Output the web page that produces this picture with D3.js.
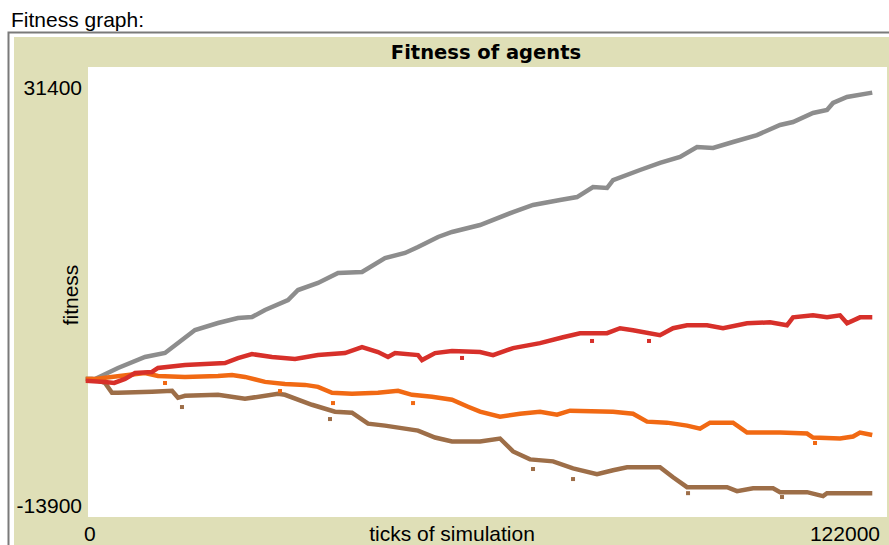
<!DOCTYPE html>
<html>
<head>
<meta charset="utf-8">
<script src="https://cdn.jsdelivr.net/npm/d3@7/dist/d3.min.js"></script>
<style>
  html, body { margin: 0; padding: 0; background: #ffffff; }
  svg { display: block; }
</style>
</head>
<body>
<div id="chart"></div>
<script>
// ---------------- DATA ----------------
const widgetLabel = "Fitness graph:";
const chartTitle = "Fitness of agents";
const xAxisTitle = "ticks of simulation";
const yAxisTitle = "fitness";
const xDomain = [0, 122000];
const yDomain = [-13900, 31400];
const xTickLabels = ["0", "122000"];
const yTickLabels = ["31400", "-13900"];

// [tick, fitness]
const graySeries = [[0,0],[1070,0],[4580,1100],[8700,2210],[11760,2610],[16340,4920],[19850,5630],[22900,6130],[25040,6230],[27030,6940],[30540,7940],[32070,8950],[35120,9660],[38180,10660],[41840,10760],[45350,12170],[48410,12680],[50390,13280],[53450,14290],[55580,14790],[59860,15490],[64900,16800],[67950,17510],[72070,18010],[74670,18310],[77110,19320],[79250,19220],[80170,20020],[84290,21030],[87340,21740],[90400,22340],[92990,23350],[95440,23250],[98490,23850],[102150,24550],[105670,25560],[107650,25860],[110700,26770],[112840,27070],[113760,27780],[115890,28380],[119410,28780]];

const redSeries = [[0,-200],[2600,-300],[4000,-400],[5650,0],[7180,600],[9770,700],[10690,1100],[14810,1400],[17870,1500],[20920,1600],[22900,2100],[25040,2500],[28100,2200],[31610,2000],[35120,2400],[39240,2600],[41840,3200],[44280,2700],[45810,2200],[46880,2600],[50390,2400],[51000,1900],[52990,2600],[55580,2800],[59860,2700],[61840,2400],[64900,3100],[69020,3600],[72530,4200],[75130,4600],[79250,4600],[81240,5100],[83220,4900],[87340,4400],[89330,5100],[91470,5400],[94520,5400],[96960,5100],[100630,5600],[104140,5700],[106730,5400],[107650,6200],[110700,6400],[112840,6200],[114830,6400],[115900,5600],[117880,6200],[119410,6200]];

const orangeSeries = [[0,0],[1070,0],[6110,400],[8700,600],[10690,300],[14810,200],[19850,300],[21990,400],[23970,200],[27030,-300],[30080,-500],[33140,-600],[35120,-800],[37260,-1400],[40310,-1500],[44280,-1400],[47340,-1200],[49470,-1600],[52530,-1800],[55580,-2100],[58030,-2800],[59860,-3300],[62910,-3800],[65960,-3500],[69020,-3300],[71620,-3600],[73600,-3200],[80170,-3300],[83220,-3500],[85360,-4300],[88410,-4400],[91470,-4700],[93450,-5000],[94980,-4400],[98490,-4400],[100630,-5400],[105670,-5400],[109790,-5500],[110700,-5900],[114830,-6000],[116820,-5800],[117880,-5400],[119410,-5600]];

const brownSeries = [[0,0],[610,0],[2600,-400],[3660,-1400],[4580,-1400],[9770,-1300],[12830,-1200],[13740,-1900],[14810,-1700],[19850,-1600],[23970,-2000],[29010,-1500],[30080,-1600],[34200,-2600],[37710,-3300],[40310,-3400],[42760,-4500],[45350,-4700],[50390,-5200],[52990,-5900],[55580,-6300],[59860,-6300],[62910,-6000],[64900,-7300],[67490,-8100],[71010,-8300],[74060,-9000],[77720,-9600],[80170,-9200],[82310,-8900],[87340,-8900],[89330,-9900],[91470,-10900],[97580,-10900],[99100,-11300],[101550,-11000],[104600,-11000],[105670,-11400],[109790,-11400],[112230,-11800],[112840,-11500],[119410,-11500]];

// isolated outlying samples
const grayDots = [];
const redDots = [[76960,3820],[85660,3820],[57110,2110]];
const orangeDots = [[37410,-2430],[49630,-2430],[11760,-410],[29320,-1220],[111010,-6450]];
const brownDots = [[67950,-9070],[74060,-10080],[91620,-11500],[105970,-11890],[36950,-4040],[14350,-2830]];

// ---------------- DRAW ----------------
const W = 889, H = 545;
const bg = "#dfdfb7";
const svg = d3.select("#chart").append("svg").attr("width", W).attr("height", H);
const font = "'Liberation Sans', Arial, sans-serif";

svg.append("rect").attr("x", 0).attr("y", 0).attr("width", W).attr("height", H).attr("fill", "#ffffff");

// widget label
svg.append("text").attr("x", 11).attr("y", 26.5)
  .attr("font-family", font).attr("font-size", 21).attr("fill", "#000")
  .text(widgetLabel);

// frame
svg.append("path").attr("d", `M8.5,${H} V32.5 H${W}`)
  .attr("fill", "none").attr("stroke", "#7a7a7a").attr("stroke-width", 2);

// beige panel
svg.append("rect").attr("x", 14).attr("y", 37).attr("width", W - 14).attr("height", H - 37).attr("fill", bg);

const x = d3.scaleLinear().domain(xDomain).range([88, 887]);
const y = d3.scaleLinear().domain(yDomain).range([517, 67]);

// plot area
svg.append("rect").attr("x", x.range()[0]).attr("y", y.range()[1])
  .attr("width", x.range()[1] - x.range()[0]).attr("height", y.range()[0] - y.range()[1])
  .attr("fill", "#ffffff");

// title
svg.append("text").attr("x", 486).attr("y", 58.5).attr("text-anchor", "middle")
  .attr("font-family", "'DejaVu Sans', sans-serif").attr("font-weight", "bold")
  .attr("font-size", 19.5).attr("fill", "#000").text(chartTitle);

// y tick labels
svg.append("text").attr("x", x.range()[0] - 6).attr("y", y(yDomain[1]) + 28)
  .attr("text-anchor", "end").attr("font-family", font).attr("font-size", 21).attr("fill", "#000")
  .text(yTickLabels[0]);
svg.append("text").attr("x", x.range()[0] - 6).attr("y", y(yDomain[0]) - 4)
  .attr("text-anchor", "end").attr("font-family", font).attr("font-size", 21).attr("fill", "#000")
  .text(yTickLabels[1]);

// x tick labels
svg.append("text").attr("x", x(xDomain[0]) - 4).attr("y", 540.5)
  .attr("text-anchor", "start").attr("font-family", font).attr("font-size", 21).attr("fill", "#000")
  .text(xTickLabels[0]);
svg.append("text").attr("x", x(xDomain[1]) - 7).attr("y", 540.5)
  .attr("text-anchor", "end").attr("font-family", font).attr("font-size", 21).attr("fill", "#000")
  .text(xTickLabels[1]);

// axis titles
svg.append("text").attr("x", 452).attr("y", 540.5).attr("text-anchor", "middle")
  .attr("font-family", font).attr("font-size", 21).attr("fill", "#000").text(xAxisTitle);
svg.append("text").attr("transform", "translate(78,295) rotate(-90)").attr("text-anchor", "middle")
  .attr("font-family", font).attr("font-size", 21).attr("fill", "#000").text(yAxisTitle);

// series
const line = d3.line().x(d => x(d[0])).y(d => y(d[1])).curve(d3.curveLinear);
const plot = svg.append("g");
const series = [
  { data: graySeries, dots: grayDots, color: "#8d8d8d" },
  { data: brownSeries, dots: brownDots, color: "#9d6e48" },
  { data: orangeSeries, dots: orangeDots, color: "#f16913" },
  { data: redSeries, dots: redDots, color: "#d7302a" }
];
series.forEach(s => {
  plot.append("path").datum(s.data).attr("d", line)
    .attr("fill", "none").attr("stroke", s.color).attr("stroke-width", 4.5)
    .attr("stroke-linejoin", "miter").attr("stroke-linecap", "square");
  plot.selectAll(null).data(s.dots).enter().append("rect")
    .attr("x", d => x(d[0]) - 2).attr("y", d => y(d[1]) - 2)
    .attr("width", 4).attr("height", 4).attr("fill", s.color);
});
</script>
</body>
</html>
